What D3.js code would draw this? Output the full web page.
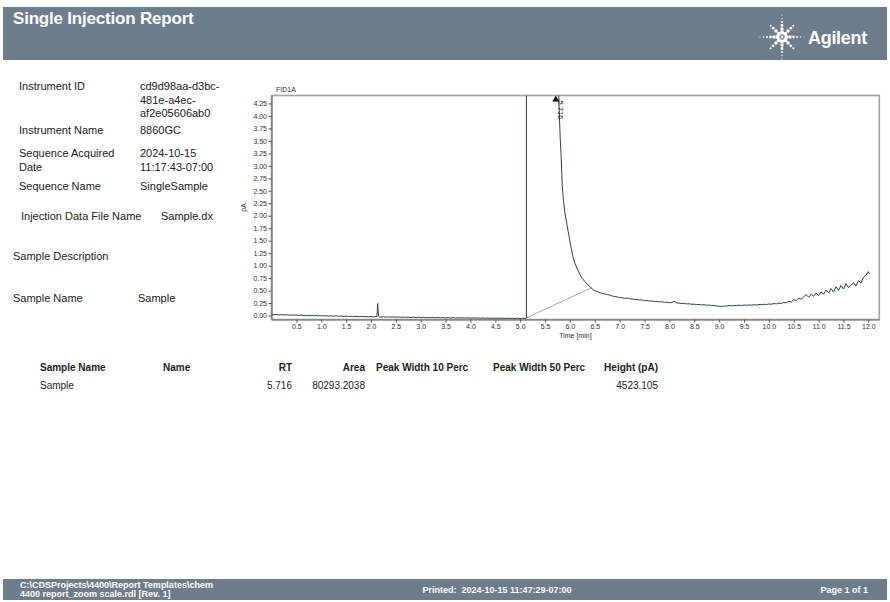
<!DOCTYPE html>
<html>
<head>
<meta charset="utf-8">
<title>Single Injection Report</title>
<script src="https://cdn.jsdelivr.net/npm/d3@7/dist/d3.min.js"></script>
<style>
  html, body { margin: 0; padding: 0; background: #ffffff; }
  svg { display: block; font-family: "Liberation Sans", Arial, sans-serif; }
</style>
</head>
<body>
<svg id="page" width="890" height="602"></svg>
<script>
// ---- Report metadata ----
const infoLabels = ["Instrument ID", "Instrument Name", "Sequence Acquired|Date", "Sequence Name",
                    "Injection Data File Name", "Sample Description", "Sample Name"];
const infoValues = ["cd9d98aa-d3bc-|481e-a4ec-|af2e05606ab0", "8860GC", "2024-10-15|11:17:43-07:00",
                    "SingleSample", "Sample.dx", "", "Sample"];

// ---- Peak table ----
const tableHeaders = ["Sample Name", "Name", "RT", "Area", "Peak Width 10 Perc", "Peak Width 50 Perc", "Height (pA)"];
const peakSample = ["Sample"];
const peakRT = [5.716];
const peakArea = [80293.2038];
const peakHeight = [4523.105];

// ---- Axis ticks ----
const timeTicks = [0.5,1.0,1.5,2.0,2.5,3.0,3.5,4.0,4.5,5.0,5.5,6.0,6.5,7.0,7.5,8.0,8.5,9.0,9.5,10.0,10.5,11.0,11.5,12.0];
const signalTicks = [0.00,0.25,0.50,0.75,1.00,1.25,1.50,1.75,2.00,2.25,2.50,2.75,3.00,3.25,3.50,3.75,4.00,4.25];

// ---- FID1A signal, [time min, pA] ----
const traceBeforeSolvent = [
  [0.00,0.020],[0.05,0.015],[0.10,0.022],[0.15,0.012],[0.20,0.018],[0.25,0.010],[0.30,0.015],[0.35,0.006],
  [0.40,0.012],[0.45,0.004],[0.50,0.010],[0.55,0.002],[0.60,0.008],[0.65,-0.002],[0.70,0.005],[0.75,-0.004],
  [0.80,0.003],[0.85,-0.006],[0.90,0.000],[0.95,-0.008],[1.00,-0.002],[1.05,-0.010],[1.10,-0.004],[1.15,-0.012],
  [1.20,-0.006],[1.25,-0.014],[1.30,-0.008],[1.35,-0.015],[1.40,-0.010],[1.45,-0.018],[1.50,-0.012],[1.55,-0.020],
  [1.60,-0.014],[1.65,-0.022],[1.70,-0.016],[1.75,-0.024],[1.80,-0.018],[1.85,-0.026],[1.90,-0.020],[1.95,-0.027],
  [2.00,-0.021],[2.05,-0.028],[2.10,-0.022],[2.12,-0.020],[2.135,0.240],[2.15,-0.010],[2.17,-0.026],[2.20,-0.030],
  [2.25,-0.024],[2.30,-0.032],[2.35,-0.026],[2.40,-0.034],[2.45,-0.027],[2.50,-0.035],[2.55,-0.029],[2.60,-0.037],
  [2.65,-0.030],[2.70,-0.038],[2.75,-0.032],[2.80,-0.040],[2.85,-0.033],[2.90,-0.041],[2.95,-0.034],[3.00,-0.042],
  [3.05,-0.036],[3.10,-0.043],[3.15,-0.037],[3.20,-0.045],[3.25,-0.038],[3.30,-0.046],[3.35,-0.040],[3.40,-0.047],
  [3.45,-0.041],[3.50,-0.048],[3.55,-0.042],[3.60,-0.049],[3.65,-0.043],[3.70,-0.050],[3.75,-0.044],[3.80,-0.051],
  [3.85,-0.045],[3.90,-0.052],[3.95,-0.046],[4.00,-0.053],[4.05,-0.047],[4.10,-0.054],[4.15,-0.048],[4.20,-0.055],
  [4.25,-0.049],[4.30,-0.056],[4.35,-0.050],[4.40,-0.057],[4.45,-0.051],[4.50,-0.058],[4.55,-0.052],[4.60,-0.058],
  [4.65,-0.053],[4.70,-0.059],[4.75,-0.053],[4.80,-0.060],[4.85,-0.054],[4.90,-0.060],[4.95,-0.055],[5.00,-0.060],
  [5.05,-0.054],[5.10,-0.058],[5.125,-0.050]
];
const traceSolventPeak = [
  [5.135,460],[5.20,1850],[5.35,3100],[5.50,3950],[5.65,4440],[5.716,4523.105],[5.74,2600],[5.76,420],[5.77,18],
  [5.775,4.45],[5.79,3.95],[5.805,3.55],[5.825,3.15],[5.845,2.60],[5.87,2.30],[5.90,2.05],[5.94,1.82],[5.98,1.60],
  [6.02,1.38],[6.06,1.18],[6.10,1.05],[6.15,0.93],[6.20,0.82],[6.25,0.74],[6.30,0.68],[6.35,0.63],[6.40,0.58],
  [6.45,0.53],[6.50,0.50],[6.55,0.48],[6.60,0.46],[6.65,0.445],[6.70,0.43],[6.75,0.42],[6.80,0.41],[6.85,0.392],
  [6.90,0.38],[6.95,0.372],[7.00,0.36]
];
const traceTail = [
  [7.05,0.355],[7.10,0.345],[7.15,0.350],[7.20,0.335],[7.25,0.330],[7.30,0.322],[7.35,0.318],[7.40,0.310],
  [7.45,0.312],[7.50,0.298],[7.55,0.300],[7.60,0.290],[7.65,0.292],[7.70,0.280],[7.75,0.284],[7.80,0.272],
  [7.85,0.276],[7.90,0.264],[7.95,0.268],[8.00,0.255],[8.05,0.262],[8.10,0.285],[8.15,0.250],[8.20,0.246],
  [8.25,0.240],[8.30,0.244],[8.35,0.232],[8.40,0.236],[8.45,0.224],[8.50,0.228],[8.55,0.218],[8.60,0.222],
  [8.65,0.212],[8.70,0.216],[8.75,0.206],[8.80,0.210],[8.85,0.198],[8.90,0.204],[8.95,0.190],[9.00,0.186],
  [9.05,0.180],[9.10,0.192],[9.15,0.188],[9.20,0.200],[9.25,0.194],[9.30,0.204],[9.35,0.198],[9.40,0.208],
  [9.45,0.200],[9.50,0.210],[9.55,0.204],[9.60,0.212],[9.65,0.206],[9.70,0.216],[9.75,0.210],[9.80,0.222],
  [9.85,0.216],[9.90,0.226],[9.95,0.220],[10.00,0.232],[10.05,0.226],[10.10,0.240],[10.15,0.232],[10.20,0.248],
  [10.25,0.240],[10.30,0.262],[10.35,0.252],[10.40,0.286],[10.45,0.270],[10.50,0.318],[10.55,0.300],[10.60,0.345],
  [10.65,0.325],[10.70,0.372],[10.75,0.420],[10.80,0.365],[10.85,0.430],[10.90,0.385],[10.95,0.452],[11.00,0.400],
  [11.05,0.475],[11.10,0.425],[11.15,0.510],[11.20,0.455],[11.25,0.540],[11.30,0.470],[11.35,0.575],[11.40,0.505],
  [11.45,0.600],[11.50,0.530],[11.55,0.640],[11.60,0.560],[11.65,0.600],[11.70,0.660],[11.75,0.590],[11.80,0.700],
  [11.85,0.650],[11.90,0.760],[11.95,0.800],[12.00,0.880],[12.02,0.830]
];
// Integration baseline of the solvent peak: start and end [time, pA]
const peakBaseline = [[5.12,-0.050],[6.44,0.560]];

const svg = d3.select("#page");
const bandColor = "#6e7d8c";

// ---- Header band ----
svg.append("rect").attr("x", 3).attr("y", 7).attr("width", 884).attr("height", 53).attr("fill", bandColor);
svg.append("text").attr("x", 13).attr("y", 24).attr("fill", "#fff")
  .attr("font-size", 17).attr("font-weight", "bold").attr("letter-spacing", -0.2).text("Single Injection Report");

// Agilent spark: dotted rays around a centre point
const spark = svg.append("g").attr("transform", "translate(782,37)");
for (let k = 0; k < 8; k++) {
  const a = k * Math.PI / 4;
  const long = k % 2 === 0;
  const steps = long ? [4.5, 8, 11.5, 15, 18.5, 22] : [4.5, 8.5, 12.5, 16];
  steps.forEach((r, i) => {
    spark.append("circle")
      .attr("cx", r * Math.cos(a)).attr("cy", r * Math.sin(a))
      .attr("r", Math.max(0.6, 2.1 - i * 0.35)).attr("fill", "#fff");
  });
}
spark.append("circle").attr("r", 1.4).attr("fill", "#fff");
svg.append("text").attr("x", 808).attr("y", 44).attr("fill", "#fff")
  .attr("font-size", 18).attr("font-weight", "bold").attr("letter-spacing", -0.3).text("Agilent");

// ---- Metadata panel ----
const infoLayout = [
  {lx: 19, vx: 140, y: 90}, {lx: 19, vx: 140, y: 134}, {lx: 19, vx: 140, y: 157},
  {lx: 19, vx: 140, y: 190}, {lx: 21, vx: 161, y: 220}, {lx: 13, vx: 138, y: 260}, {lx: 13, vx: 138, y: 302}
];
infoLabels.forEach((lab, i) => {
  const L = infoLayout[i];
  lab.split("|").forEach((line, j) => {
    svg.append("text").attr("x", L.lx).attr("y", L.y + j * 13.5).attr("font-size", 11)
      .attr("fill", "#222").text(line);
  });
  infoValues[i].split("|").forEach((line, j) => {
    if (line) svg.append("text").attr("x", L.vx).attr("y", L.y + j * 13.5).attr("font-size", 11)
      .attr("fill", "#222").text(line);
  });
});

// ---- Chromatogram ----
const x = d3.scaleLinear().domain([0, 12.22]).range([271.5, 879.3]);
const y = d3.scaleLinear().domain([-0.08, 4.41]).range([319.5, 95.5]);

const chart = svg.append("g");
chart.append("defs").append("clipPath").attr("id", "plotClip")
  .append("rect").attr("x", x.range()[0]).attr("y", y.range()[1])
  .attr("width", x.range()[1] - x.range()[0]).attr("height", y.range()[0] - y.range()[1]);

chart.append("rect").attr("x", x.range()[0]).attr("y", y.range()[1])
  .attr("width", x.range()[1] - x.range()[0]).attr("height", y.range()[0] - y.range()[1])
  .attr("fill", "none").attr("stroke", "#a3a3a3").attr("stroke-width", 1.6);

const xAxis = chart.append("g").attr("transform", `translate(0,${y.range()[0]})`)
  .call(d3.axisBottom(x).tickValues(timeTicks).tickFormat(d3.format(".1f")).tickSize(3).tickSizeOuter(0).tickPadding(2));
const yAxis = chart.append("g").attr("transform", `translate(${x.range()[0]},0)`)
  .call(d3.axisLeft(y).tickValues(signalTicks).tickFormat(d3.format(".2f")).tickSize(3).tickSizeOuter(0).tickPadding(1.5));
[xAxis, yAxis].forEach(g => {
  g.selectAll(".domain").attr("stroke", "#6f6f6f").attr("stroke-width", 1.2);
  g.selectAll(".tick line").attr("stroke", "#555");
  g.selectAll(".tick text").attr("font-size", 7).attr("fill", "#333")
    .attr("font-family", "'Liberation Sans', Arial, sans-serif");
});

chart.append("text").attr("x", 276).attr("y", 92).attr("font-size", 7).attr("fill", "#333").text("FID1A");
chart.append("text").attr("x", (x.range()[0] + x.range()[1]) / 2).attr("y", 338)
  .attr("text-anchor", "middle").attr("font-size", 7).attr("fill", "#333").text("Time [min]");
chart.append("text").attr("transform", `translate(246,${(y.range()[0] + y.range()[1]) / 2}) rotate(-90)`)
  .attr("text-anchor", "middle").attr("font-size", 7).attr("fill", "#333").text("pA");

const line = d3.line().x(d => x(d[0])).y(d => y(d[1]));
const plot = chart.append("g").attr("clip-path", "url(#plotClip)");
plot.append("path").datum(peakBaseline).attr("d", line)
  .attr("fill", "none").attr("stroke", "#9ea7b1").attr("stroke-width", 1);
plot.append("path").datum(traceBeforeSolvent.concat(traceSolventPeak, traceTail)).attr("d", line)
  .attr("fill", "none").attr("stroke", "#2e3d55").attr("stroke-width", 1).attr("stroke-linejoin", "round");

// Apex marker and retention-time label (apex is off scale, pinned to the frame top)
peakRT.forEach(rt => {
  const px = x(rt), py = y.range()[1] + 1;
  chart.append("path").attr("d", `M${px - 3.5},${py + 5}L${px + 3.5},${py + 5}L${px},${py - 1}Z`).attr("fill", "#111");
  chart.append("text").attr("transform", `translate(${px + 2},${py + 4}) rotate(90)`)
    .attr("font-size", 7.5).attr("fill", "#222").text(d3.format(".3f")(rt));
});

// ---- Peak table ----
const colX = [40, 163, 292, 365, 376, 493, 658];
const colAnchor = ["start", "start", "end", "end", "start", "start", "end"];
tableHeaders.forEach((h, i) => {
  svg.append("text").attr("x", colX[i]).attr("y", 371).attr("text-anchor", colAnchor[i])
    .attr("font-size", 10).attr("font-weight", "bold").attr("fill", "#222").text(h);
});
peakRT.forEach((rt, r) => {
  const row = [peakSample[r], "", d3.format(".3f")(rt), d3.format(".4f")(peakArea[r]), "", "", d3.format(".3f")(peakHeight[r])];
  row.forEach((v, i) => {
    if (v) svg.append("text").attr("x", colX[i]).attr("y", 389 + r * 16).attr("text-anchor", colAnchor[i])
      .attr("font-size", 10).attr("fill", "#222").text(v);
  });
});

// ---- Footer band ----
svg.append("rect").attr("x", 3).attr("y", 579).attr("width", 884).attr("height", 21).attr("fill", bandColor);
const foot = svg.append("g").attr("fill", "#fff").attr("font-size", 9).attr("font-weight", "bold");
foot.append("text").attr("x", 20).attr("y", 588).text("C:\\CDSProjects\\4400\\Report Templates\\chem");
foot.append("text").attr("x", 20).attr("y", 597).text("4400  report_zoom scale.rdl [Rev. 1]");
foot.append("text").attr("x", 497).attr("y", 593).attr("text-anchor", "middle").attr("xml:space", "preserve")
  .text("Printed:  2024-10-15 11:47:29-07:00");
foot.append("text").attr("x", 868).attr("y", 593).attr("text-anchor", "end").text("Page 1 of 1");
</script>
</body>
</html>
